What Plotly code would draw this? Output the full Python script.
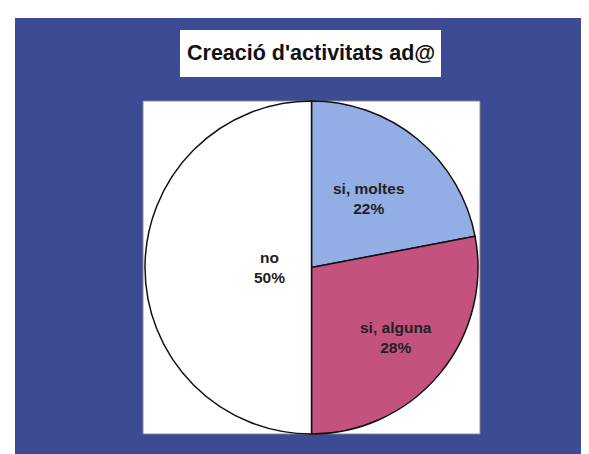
import math
import plotly.graph_objects as go

title = "Creació d'activitats ad@"
labels = ["si, moltes", "si, alguna", "no"]
values = [22, 28, 50]
colors = ["#93aee4", "#c4527e", "#ffffff"]
# radial placement of each label, as a fraction of the pie radius (style)
label_radius = [0.54, 0.66, 0.25]

W, H = 589, 454
# pie domain in pixels
PX0, PX1, PY0, PY1 = 137, 470, 93, 426

def px(x):
    return x / W

def py(y):
    return 1 - y / H

fig = go.Figure()
fig.add_trace(go.Pie(
    labels=labels,
    values=values,
    sort=False,
    direction="clockwise",
    rotation=0,
    marker=dict(colors=colors, line=dict(color="#111111", width=1.5)),
    textinfo="none",
    domain=dict(x=[px(PX0), px(PX1)], y=[py(PY1), py(PY0)]),
    showlegend=False,
    hoverinfo="label+percent",
))

# label positions derived from slice mid-angles
cx, cy = (PX0 + PX1) / 2, (PY0 + PY1) / 2
R = min(PX1 - PX0, PY1 - PY0) / 2
total = sum(values)
annotations = []
cum = 0
for lab, v, f in zip(labels, values, label_radius):
    mid = (cum + v / 2) / total * 2 * math.pi
    cum += v
    x = cx + f * R * math.sin(mid)
    y = cy - f * R * math.cos(mid)
    pct = round(100 * v / total)
    annotations.append(dict(
        text=f"<b>{lab}<br>{pct}%</b>", xref="paper", yref="paper",
        x=px(x), y=py(y), xanchor="center", yanchor="middle", showarrow=False,
        font=dict(family="Liberation Sans, Arial", size=15.5, color="#222222"),
    ))

annotations.append(dict(
    text="<b>" + title + "</b>", xref="paper", yref="paper", x=px(303), y=py(45),
    xanchor="center", yanchor="middle", showarrow=False,
    font=dict(family="Liberation Sans, Arial", size=21.5, color="#111111"),
))

fig.update_layout(
    width=W, height=H,
    margin=dict(l=0, r=0, t=0, b=0),
    paper_bgcolor="white",
    plot_bgcolor="white",
    shapes=[
        dict(type="rect", xref="paper", yref="paper", x0=px(7), x1=px(589), y0=py(452), y1=py(10),
             fillcolor="#3c4b93", line=dict(width=0), layer="below"),
        dict(type="rect", xref="paper", yref="paper", x0=px(135), x1=px(472), y0=py(426), y1=py(93),
             fillcolor="white", line=dict(color="#888888", width=1), layer="below"),
        dict(type="rect", xref="paper", yref="paper", x0=px(172), x1=px(433), y0=py(69), y1=py(22),
             fillcolor="white", line=dict(width=0), layer="below"),
    ],
    annotations=annotations,
)

fig.write_html("out.html")
